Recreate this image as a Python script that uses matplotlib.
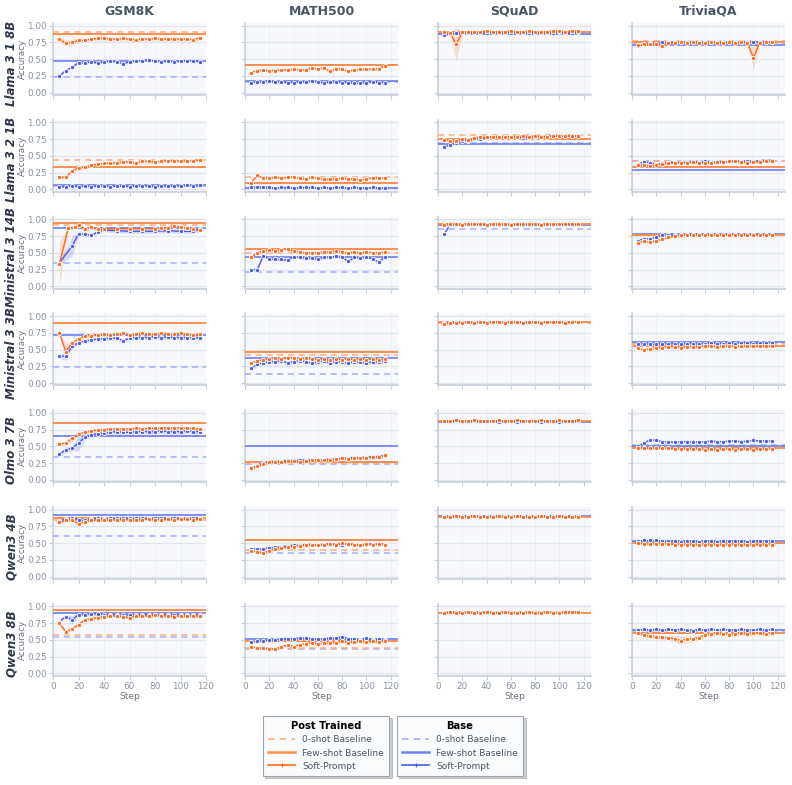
import numpy as np
import matplotlib
matplotlib.use("Agg")
from matplotlib import pyplot as plt
from matplotlib.lines import Line2D

# ---- данные ----
models = ["Llama 3 1 8B", "Llama 3 2 1B", "Ministral 3 14B", "Ministral 3 3B",
          "Olmo 3 7B", "Qwen3 4B", "Qwen3 8B"]
datasets = ["GSM8K", "MATH500", "SQuAD", "TriviaQA"]

steps = [5, 10, 15, 20, 25, 30, 35, 40, 45, 50, 55, 60, 65, 70, 75, 80, 85, 90,
         95, 100, 105, 110, 115]

# baselines: rows = models, cols = datasets
post_zero = [[0.91, 0.41, 0.91, 0.77],
             [0.44, 0.19, 0.81, 0.43],
             [0.91, 0.49, 0.93, 0.77],
             [0.89, 0.42, 0.90, 0.58],
             [0.66, 0.25, 0.88, 0.49],
             [0.85, 0.40, 0.89, 0.50],
             [0.58, 0.38, 0.91, 0.61]]
post_few = [[0.88, 0.41, 0.90, 0.75],
            [0.34, 0.10, 0.76, 0.33],
            [0.95, 0.55, 0.93, 0.76],
            [0.90, 0.46, 0.91, 0.55],
            [0.85, 0.26, 0.88, 0.47],
            [0.88, 0.54, 0.89, 0.50],
            [0.94, 0.48, 0.91, 0.60]]
base_zero = [[0.24, 0.16, 0.88, 0.74],
             [0.05, 0.02, 0.70, 0.42],
             [0.35, 0.22, 0.86, 0.77],
             [0.24, 0.13, 0.89, 0.60],
             [0.34, 0.24, 0.87, 0.52],
             [0.60, 0.36, 0.90, 0.52],
             [0.55, 0.37, 0.91, 0.64]]
base_few = [[0.48, 0.17, 0.87, 0.71],
            [0.06, 0.02, 0.68, 0.29],
            [0.87, 0.43, 0.91, 0.78],
            [0.72, 0.37, 0.91, 0.62],
            [0.65, 0.50, 0.87, 0.50],
            [0.92, 0.54, 0.90, 0.53],
            [0.91, 0.52, 0.91, 0.65]]

# soft-prompt curves: [GSM8K, MATH500, SQuAD, TriviaQA]
llama8_post = [
    [0.80, 0.74, 0.75, 0.78, 0.78, 0.80, 0.81, 0.81, 0.80, 0.80, 0.81, 0.80, 0.79, 0.80, 0.80, 0.81, 0.80, 0.80, 0.80, 0.80, 0.80, 0.79, 0.82],
    [0.30, 0.33, 0.34, 0.33, 0.33, 0.34, 0.34, 0.35, 0.34, 0.34, 0.37, 0.35, 0.37, 0.32, 0.36, 0.35, 0.32, 0.34, 0.35, 0.35, 0.35, 0.36, 0.40],
    [0.90, 0.89, 0.72, 0.90, 0.91, 0.91, 0.91, 0.92, 0.91, 0.91, 0.91, 0.92, 0.91, 0.91, 0.92, 0.91, 0.91, 0.91, 0.92, 0.92, 0.91, 0.92, 0.92],
    [0.71, 0.72, 0.72, 0.73, 0.70, 0.74, 0.74, 0.75, 0.74, 0.75, 0.74, 0.74, 0.75, 0.74, 0.74, 0.75, 0.74, 0.75, 0.74, 0.52, 0.74, 0.75, 0.75]]
llama8_base = [
    [0.25, 0.33, 0.38, 0.45, 0.44, 0.46, 0.44, 0.46, 0.47, 0.46, 0.43, 0.46, 0.47, 0.48, 0.49, 0.47, 0.46, 0.47, 0.46, 0.47, 0.48, 0.48, 0.46],
    [0.15, 0.16, 0.16, 0.17, 0.16, 0.16, 0.15, 0.15, 0.16, 0.16, 0.17, 0.16, 0.14, 0.16, 0.16, 0.15, 0.15, 0.14, 0.14, 0.15, 0.16, 0.15, 0.15],
    [0.86, 0.87, 0.89, 0.89, 0.89, 0.90, 0.89, 0.89, 0.90, 0.89, 0.89, 0.89, 0.90, 0.89, 0.89, 0.90, 0.89, 0.89, 0.89, 0.90, 0.89, 0.89, 0.90],
    [0.70, 0.73, 0.74, 0.73, 0.75, 0.75, 0.75, 0.76, 0.75, 0.76, 0.75, 0.76, 0.75, 0.76, 0.75, 0.76, 0.75, 0.75, 0.76, 0.75, 0.76, 0.76, 0.76]]

llama1_post = [
    [0.18, 0.18, 0.28, 0.32, 0.33, 0.36, 0.38, 0.39, 0.39, 0.40, 0.41, 0.41, 0.39, 0.42, 0.42, 0.41, 0.42, 0.43, 0.43, 0.42, 0.43, 0.43, 0.44],
    [0.10, 0.21, 0.17, 0.17, 0.18, 0.17, 0.18, 0.18, 0.17, 0.15, 0.18, 0.17, 0.15, 0.15, 0.16, 0.17, 0.15, 0.16, 0.14, 0.16, 0.17, 0.17, 0.17],
    [0.74, 0.72, 0.73, 0.75, 0.74, 0.77, 0.78, 0.78, 0.79, 0.78, 0.78, 0.79, 0.79, 0.80, 0.79, 0.80, 0.79, 0.79, 0.80, 0.80, 0.80, 0.80, 0.80],
    [0.36, 0.37, 0.35, 0.37, 0.38, 0.39, 0.40, 0.39, 0.40, 0.41, 0.40, 0.40, 0.39, 0.41, 0.41, 0.42, 0.42, 0.41, 0.40, 0.41, 0.41, 0.42, 0.42]]
llama1_base = [
    [0.04, 0.04, 0.05, 0.04, 0.05, 0.04, 0.05, 0.05, 0.04, 0.05, 0.05, 0.04, 0.05, 0.05, 0.05, 0.04, 0.05, 0.05, 0.05, 0.05, 0.06, 0.05, 0.06],
    [0.03, 0.04, 0.04, 0.03, 0.02, 0.03, 0.03, 0.02, 0.03, 0.03, 0.03, 0.02, 0.03, 0.02, 0.03, 0.03, 0.02, 0.03, 0.02, 0.02, 0.03, 0.02, 0.02],
    [0.64, 0.66, 0.69, 0.72, 0.73, 0.75, 0.76, 0.77, 0.78, 0.78, 0.78, 0.79, 0.78, 0.77, 0.78, 0.79, 0.79, 0.79, 0.80, 0.80, 0.80, 0.80, 0.80],
    [0.38, 0.41, 0.40, 0.38, 0.39, 0.40, 0.41, 0.40, 0.41, 0.42, 0.41, 0.42, 0.41, 0.41, 0.40, 0.42, 0.43, 0.42, 0.43, 0.42, 0.43, 0.44, 0.44]]

# Ministral 3 14B GSM8K was logged at sparser steps
m14_gsm_post_steps = [5, 12, 17, 20, 25, 30, 35, 40, 50, 60, 70, 80, 85, 90, 95, 100, 105, 110, 115]
m14_gsm_base_steps = [5, 15, 20, 25, 30, 35, 40, 50, 60, 70, 80, 90, 100, 110, 115]
m14_post = [
    [0.33, 0.87, 0.88, 0.92, 0.85, 0.88, 0.86, 0.85, 0.86, 0.86, 0.86, 0.86, 0.87, 0.87, 0.90, 0.88, 0.87, 0.85, 0.84],
    [0.43, 0.50, 0.53, 0.54, 0.53, 0.54, 0.56, 0.52, 0.51, 0.50, 0.50, 0.50, 0.51, 0.51, 0.53, 0.51, 0.50, 0.51, 0.50, 0.51, 0.50, 0.50, 0.51],
    [0.92, 0.93, 0.93, 0.92, 0.93, 0.93, 0.93, 0.92, 0.93, 0.93, 0.93, 0.92, 0.93, 0.93, 0.93, 0.93, 0.92, 0.93, 0.93, 0.93, 0.93, 0.93, 0.93],
    [0.65, 0.67, 0.66, 0.68, 0.70, 0.73, 0.75, 0.76, 0.76, 0.76, 0.77, 0.76, 0.77, 0.77, 0.77, 0.76, 0.77, 0.77, 0.77, 0.77, 0.77, 0.77, 0.77]]
m14_base = [
    [0.35, 0.60, 0.78, 0.78, 0.76, 0.81, 0.84, 0.83, 0.82, 0.82, 0.82, 0.83, 0.82, 0.82, 0.85],
    [0.25, 0.25, 0.45, 0.41, 0.40, 0.40, 0.39, 0.44, 0.43, 0.42, 0.42, 0.40, 0.43, 0.43, 0.45, 0.44, 0.37, 0.43, 0.42, 0.43, 0.41, 0.36, 0.44],
    [0.78, 0.92, 0.92, 0.92, 0.93, 0.92, 0.92, 0.92, 0.92, 0.92, 0.92, 0.93, 0.92, 0.92, 0.92, 0.92, 0.92, 0.92, 0.92, 0.92, 0.93, 0.92, 0.92],
    [0.68, 0.71, 0.71, 0.73, 0.76, 0.77, 0.77, 0.77, 0.77, 0.77, 0.77, 0.77, 0.78, 0.77, 0.77, 0.78, 0.77, 0.77, 0.77, 0.78, 0.77, 0.77, 0.77]]

m3_post = [
    [0.75, 0.47, 0.60, 0.66, 0.70, 0.71, 0.72, 0.73, 0.72, 0.73, 0.74, 0.72, 0.73, 0.74, 0.73, 0.73, 0.74, 0.73, 0.73, 0.74, 0.73, 0.72, 0.73],
    [0.30, 0.33, 0.35, 0.36, 0.37, 0.36, 0.38, 0.38, 0.36, 0.37, 0.36, 0.35, 0.36, 0.34, 0.36, 0.35, 0.36, 0.35, 0.36, 0.35, 0.36, 0.35, 0.36],
    [0.88, 0.89, 0.90, 0.90, 0.91, 0.90, 0.91, 0.90, 0.91, 0.91, 0.90, 0.91, 0.91, 0.90, 0.91, 0.91, 0.90, 0.91, 0.91, 0.91, 0.90, 0.91, 0.91],
    [0.52, 0.50, 0.51, 0.53, 0.53, 0.54, 0.54, 0.53, 0.54, 0.54, 0.54, 0.55, 0.55, 0.54, 0.55, 0.55, 0.54, 0.55, 0.55, 0.55, 0.55, 0.55, 0.55]]
m3_base = [
    [0.40, 0.40, 0.55, 0.60, 0.63, 0.64, 0.66, 0.66, 0.67, 0.67, 0.63, 0.67, 0.68, 0.68, 0.68, 0.69, 0.68, 0.69, 0.68, 0.68, 0.68, 0.67, 0.68],
    [0.22, 0.28, 0.30, 0.32, 0.32, 0.33, 0.30, 0.32, 0.33, 0.32, 0.30, 0.31, 0.33, 0.30, 0.32, 0.31, 0.30, 0.32, 0.31, 0.30, 0.32, 0.31, 0.33],
    [0.90, 0.90, 0.91, 0.91, 0.91, 0.91, 0.91, 0.91, 0.91, 0.91, 0.91, 0.91, 0.91, 0.91, 0.91, 0.91, 0.91, 0.91, 0.91, 0.91, 0.91, 0.91, 0.91],
    [0.58, 0.59, 0.58, 0.58, 0.59, 0.58, 0.59, 0.58, 0.59, 0.59, 0.58, 0.59, 0.60, 0.59, 0.59, 0.60, 0.59, 0.60, 0.60, 0.59, 0.60, 0.60, 0.60]]

olmo_post = [
    [0.53, 0.55, 0.62, 0.68, 0.71, 0.73, 0.75, 0.75, 0.76, 0.76, 0.76, 0.76, 0.77, 0.76, 0.77, 0.77, 0.77, 0.78, 0.77, 0.78, 0.77, 0.77, 0.76],
    [0.17, 0.20, 0.24, 0.26, 0.27, 0.26, 0.28, 0.28, 0.27, 0.28, 0.29, 0.29, 0.29, 0.30, 0.31, 0.32, 0.31, 0.32, 0.33, 0.33, 0.34, 0.34, 0.37],
    [0.88, 0.88, 0.89, 0.88, 0.88, 0.89, 0.88, 0.88, 0.88, 0.89, 0.88, 0.88, 0.89, 0.88, 0.88, 0.88, 0.89, 0.88, 0.88, 0.89, 0.88, 0.88, 0.89],
    [0.48, 0.48, 0.47, 0.47, 0.47, 0.47, 0.46, 0.46, 0.46, 0.46, 0.46, 0.45, 0.46, 0.45, 0.46, 0.46, 0.45, 0.46, 0.46, 0.45, 0.46, 0.46, 0.46]]
olmo_base = [
    [0.38, 0.45, 0.47, 0.55, 0.64, 0.67, 0.69, 0.70, 0.71, 0.72, 0.71, 0.71, 0.72, 0.72, 0.72, 0.72, 0.73, 0.72, 0.72, 0.72, 0.73, 0.72, 0.72],
    [0.16, 0.22, 0.25, 0.27, 0.28, 0.28, 0.29, 0.29, 0.29, 0.30, 0.30, 0.29, 0.30, 0.31, 0.31, 0.32, 0.33, 0.33, 0.33, 0.34, 0.34, 0.35, 0.36],
    [0.87, 0.87, 0.88, 0.87, 0.87, 0.88, 0.87, 0.87, 0.88, 0.87, 0.87, 0.88, 0.87, 0.87, 0.88, 0.87, 0.87, 0.88, 0.87, 0.87, 0.88, 0.87, 0.88],
    [0.50, 0.55, 0.60, 0.59, 0.57, 0.57, 0.56, 0.57, 0.57, 0.56, 0.57, 0.57, 0.58, 0.57, 0.57, 0.58, 0.58, 0.57, 0.58, 0.59, 0.58, 0.58, 0.58]]

q4_post = [
    [0.81, 0.84, 0.85, 0.79, 0.82, 0.84, 0.85, 0.85, 0.84, 0.85, 0.85, 0.85, 0.84, 0.85, 0.86, 0.85, 0.85, 0.86, 0.85, 0.86, 0.86, 0.85, 0.86],
    [0.38, 0.37, 0.36, 0.38, 0.42, 0.43, 0.44, 0.45, 0.46, 0.47, 0.47, 0.48, 0.48, 0.49, 0.48, 0.50, 0.49, 0.48, 0.47, 0.49, 0.48, 0.49, 0.48],
    [0.89, 0.89, 0.90, 0.89, 0.89, 0.90, 0.89, 0.89, 0.89, 0.90, 0.89, 0.89, 0.90, 0.89, 0.89, 0.89, 0.90, 0.89, 0.89, 0.90, 0.89, 0.89, 0.89],
    [0.50, 0.49, 0.49, 0.49, 0.49, 0.49, 0.48, 0.48, 0.48, 0.48, 0.47, 0.47, 0.48, 0.48, 0.47, 0.48, 0.48, 0.47, 0.48, 0.47, 0.48, 0.48, 0.48]]
q4_base = [
    [0.83, 0.86, 0.87, 0.85, 0.84, 0.86, 0.87, 0.86, 0.87, 0.87, 0.87, 0.88, 0.87, 0.87, 0.87, 0.88, 0.88, 0.87, 0.88, 0.87, 0.88, 0.87, 0.88],
    [0.42, 0.41, 0.42, 0.43, 0.44, 0.45, 0.46, 0.47, 0.47, 0.48, 0.48, 0.47, 0.48, 0.49, 0.48, 0.48, 0.49, 0.48, 0.47, 0.48, 0.49, 0.48, 0.49],
    [0.90, 0.90, 0.90, 0.90, 0.91, 0.90, 0.90, 0.90, 0.90, 0.91, 0.90, 0.90, 0.90, 0.91, 0.90, 0.90, 0.90, 0.91, 0.90, 0.90, 0.91, 0.90, 0.90],
    [0.53, 0.54, 0.54, 0.54, 0.53, 0.53, 0.53, 0.52, 0.53, 0.53, 0.52, 0.53, 0.53, 0.52, 0.53, 0.53, 0.53, 0.53, 0.52, 0.53, 0.53, 0.53, 0.53]]

q8_post = [
    [0.75, 0.62, 0.67, 0.73, 0.80, 0.82, 0.83, 0.85, 0.86, 0.86, 0.85, 0.83, 0.86, 0.86, 0.86, 0.87, 0.86, 0.86, 0.85, 0.86, 0.86, 0.86, 0.86],
    [0.40, 0.38, 0.38, 0.37, 0.36, 0.40, 0.42, 0.40, 0.43, 0.44, 0.46, 0.44, 0.45, 0.46, 0.46, 0.48, 0.46, 0.47, 0.48, 0.47, 0.48, 0.47, 0.49],
    [0.91, 0.92, 0.91, 0.91, 0.92, 0.91, 0.91, 0.92, 0.91, 0.91, 0.92, 0.91, 0.91, 0.91, 0.92, 0.91, 0.91, 0.92, 0.91, 0.91, 0.92, 0.92, 0.92],
    [0.61, 0.57, 0.56, 0.55, 0.54, 0.53, 0.52, 0.49, 0.51, 0.52, 0.53, 0.58, 0.59, 0.60, 0.59, 0.58, 0.59, 0.60, 0.59, 0.60, 0.60, 0.59, 0.60]]
q8_base = [
    [0.77, 0.85, 0.80, 0.88, 0.88, 0.89, 0.89, 0.88, 0.88, 0.88, 0.88, 0.87, 0.88, 0.88, 0.88, 0.87, 0.87, 0.88, 0.87, 0.88, 0.87, 0.88, 0.87],
    [0.47, 0.48, 0.49, 0.50, 0.50, 0.51, 0.52, 0.52, 0.53, 0.53, 0.52, 0.51, 0.52, 0.53, 0.53, 0.55, 0.52, 0.51, 0.50, 0.53, 0.50, 0.51, 0.50],
    [0.91, 0.91, 0.92, 0.91, 0.91, 0.91, 0.92, 0.91, 0.91, 0.91, 0.92, 0.91, 0.91, 0.92, 0.91, 0.91, 0.91, 0.92, 0.91, 0.91, 0.91, 0.92, 0.91],
    [0.65, 0.66, 0.65, 0.66, 0.65, 0.66, 0.65, 0.66, 0.65, 0.64, 0.66, 0.65, 0.66, 0.65, 0.66, 0.65, 0.65, 0.66, 0.65, 0.65, 0.66, 0.65, 0.66]]

post_soft = [llama8_post, llama1_post, m14_post, m3_post, olmo_post, q4_post, q8_post]
base_soft = [llama8_base, llama1_base, m14_base, m3_base, olmo_base, q4_base, q8_base]

# typical spread (half width of shaded band) per panel
post_band = [[0.035, 0.025, 0.02, 0.02],
             [0.025, 0.02, 0.015, 0.02],
             [0.03, 0.025, 0.01, 0.02],
             [0.03, 0.02, 0.01, 0.02],
             [0.025, 0.02, 0.01, 0.01],
             [0.02, 0.02, 0.01, 0.015],
             [0.02, 0.025, 0.01, 0.03]]
base_band = [[0.015, 0.015, 0.01, 0.015],
             [0.01, 0.01, 0.015, 0.02],
             [0.03, 0.02, 0.01, 0.01],
             [0.03, 0.03, 0.01, 0.02],
             [0.04, 0.03, 0.01, 0.02],
             [0.015, 0.02, 0.01, 0.015],
             [0.03, 0.02, 0.01, 0.015]]
# points with much wider spread: (row, col, series, index) -> half width
wide_band = {(0, 0, "post", 1): 0.05, (0, 0, "post", 2): 0.05,
             (0, 2, "post", 2): 0.25, (0, 3, "post", 19): 0.17,
             (2, 0, "post", 0): 0.33, (2, 0, "base", 1): 0.15,
             (3, 0, "post", 1): 0.12, (3, 0, "base", 1): 0.06,
             (4, 0, "base", 3): 0.12, (4, 0, "post", 2): 0.05,
             (6, 0, "post", 1): 0.04, (6, 0, "base", 2): 0.06,
             (6, 3, "post", 6): 0.05, (6, 3, "post", 7): 0.06,
             (6, 3, "post", 8): 0.05, (6, 3, "post", 9): 0.05}

# ---- стиль ----
OR_SOFT, OR_FEW, OR_ZERO = "#ff6a1f", "#ff8f4d", "#ffad80"
BL_SOFT, BL_FEW, BL_ZERO = "#4a5de8", "#6b7ff0", "#a3affa"
GRID = "#e1e5ee"
AXC = "#c7cfdc"
TICK = "#8a93a5"

W, H = 792, 785
fig = plt.figure(figsize=(W / 100, H / 100), dpi=100)

col_left = [53, 245, 438, 632]
ax_w, ax_h = 153, 72
row_top0, row_pitch = 23, 96.8


def draw_soft(ax, x, y, band, col, r, c, key):
    x = np.array(x)
    y = np.array(y)
    b = np.full(len(y), band)
    for (rr, cc, kk, i), v in wide_band.items():
        if rr == r and cc == c and kk == key:
            b[i] = v
    ax.fill_between(x, np.clip(y - b, 0, 1.02), y + b, color=col, alpha=0.18, lw=0, zorder=2)
    ax.plot(x, y, color=col, lw=1.0, marker="o", ms=3.0, mfc=col, mec="white",
            mew=0.6, zorder=4)


for r, model in enumerate(models):
    top = row_top0 + r * row_pitch
    for c, ds in enumerate(datasets):
        ax = fig.add_axes([col_left[c] / W, 1 - (top + ax_h) / H, ax_w / W, ax_h / H])
        ax.set_facecolor("#f6f8fb")
        for s in ["top", "right"]:
            ax.spines[s].set_visible(False)
        for s in ["left", "bottom"]:
            ax.spines[s].set_color(AXC)
            ax.spines[s].set_linewidth(1.2)
        ax.set_ylim(-0.035, 1.04)
        ax.set_xlim(0, 120 if c == 0 else 126)
        ax.set_yticks([0, 0.25, 0.5, 0.75, 1.0])
        ax.set_xticks([0, 20, 40, 60, 80, 100, 120])
        ax.grid(True, axis="y", color=GRID, lw=0.9, zorder=0)
        ax.grid(True, axis="x", color="#edf0f5", lw=0.7, zorder=0)
        ax.set_axisbelow(True)
        ax.tick_params(colors=AXC, labelcolor=TICK, labelsize=6.4, length=3, width=0.8, pad=1.5)
        if c == 0:
            ax.set_yticklabels(["0.00", "0.25", "0.50", "0.75", "1.00"])
            ax.set_ylabel("Accuracy", fontsize=6.3, color="#6b7280")
            ax.yaxis.set_label_coords(-(53 - 27) / ax_w, 0.5)
        else:
            ax.set_yticklabels([])
        if r == len(models) - 1:
            ax.set_xlabel("Step", fontsize=6.6, color="#6b7280", labelpad=1)
        else:
            ax.set_xticklabels([])
        if r == 0:
            ax.set_title(ds, fontsize=9, fontweight="bold", color="#4a5568", pad=6)

        # baselines
        ax.axhline(base_zero[r][c], color=BL_ZERO, lw=1.1, ls=(0, (4, 3)), zorder=3)
        ax.axhline(post_zero[r][c], color=OR_ZERO, lw=1.1, ls=(0, (4, 3)), zorder=3)
        ax.axhline(base_few[r][c], color=BL_FEW, lw=1.2, zorder=3)
        ax.axhline(post_few[r][c], color=OR_FEW, lw=1.4, zorder=3)

        xp = m14_gsm_post_steps if (r == 2 and c == 0) else steps
        xb = m14_gsm_base_steps if (r == 2 and c == 0) else steps
        draw_soft(ax, xb, base_soft[r][c], base_band[r][c], BL_SOFT, r, c, "base")
        draw_soft(ax, xp, post_soft[r][c], post_band[r][c], OR_SOFT, r, c, "post")

    fig.text(12 / W, 1 - (top + ax_h / 2 + 4) / H, model, rotation=90, ha="center", va="center",
             fontsize=8.5, fontweight="bold", fontstyle="italic", color="#2d3748")

# ---- легенды ----
def handles(soft, few, zero):
    return [Line2D([], [], color=zero, lw=1.2, ls=(0, (4, 3))),
            Line2D([], [], color=few, lw=1.8),
            Line2D([], [], color=soft, lw=1.2, marker="+", ms=3.5, mew=0.8)]

labels = ["0-shot Baseline", "Few-shot Baseline", "Soft-Prompt"]
for title, hs, cx in [("Post Trained", handles(OR_SOFT, OR_FEW, OR_ZERO), 326),
                      ("Base", handles(BL_SOFT, BL_FEW, BL_ZERO), 460)]:
    leg = fig.legend(hs, labels, title=title, loc="center", bbox_to_anchor=(cx / W, 1 - 746 / H),
                     fontsize=6.5, title_fontsize=7.2, frameon=True, fancybox=False,
                     shadow={"ox": 1.5, "oy": -1.5, "color": "#000000", "alpha": 0.18},
                     handlelength=3.0, handletextpad=0.8, labelspacing=0.45,
                     borderpad=0.6, borderaxespad=0)
    leg.get_title().set_fontweight("bold")
    leg.get_frame().set_edgecolor("#9aa3b0")
    leg.get_frame().set_facecolor("#fafbfc")
    leg.get_frame().set_linewidth(0.8)
    for t in leg.get_texts():
        t.set_color("#4a5568")

fig.savefig("out.png", dpi=100)
